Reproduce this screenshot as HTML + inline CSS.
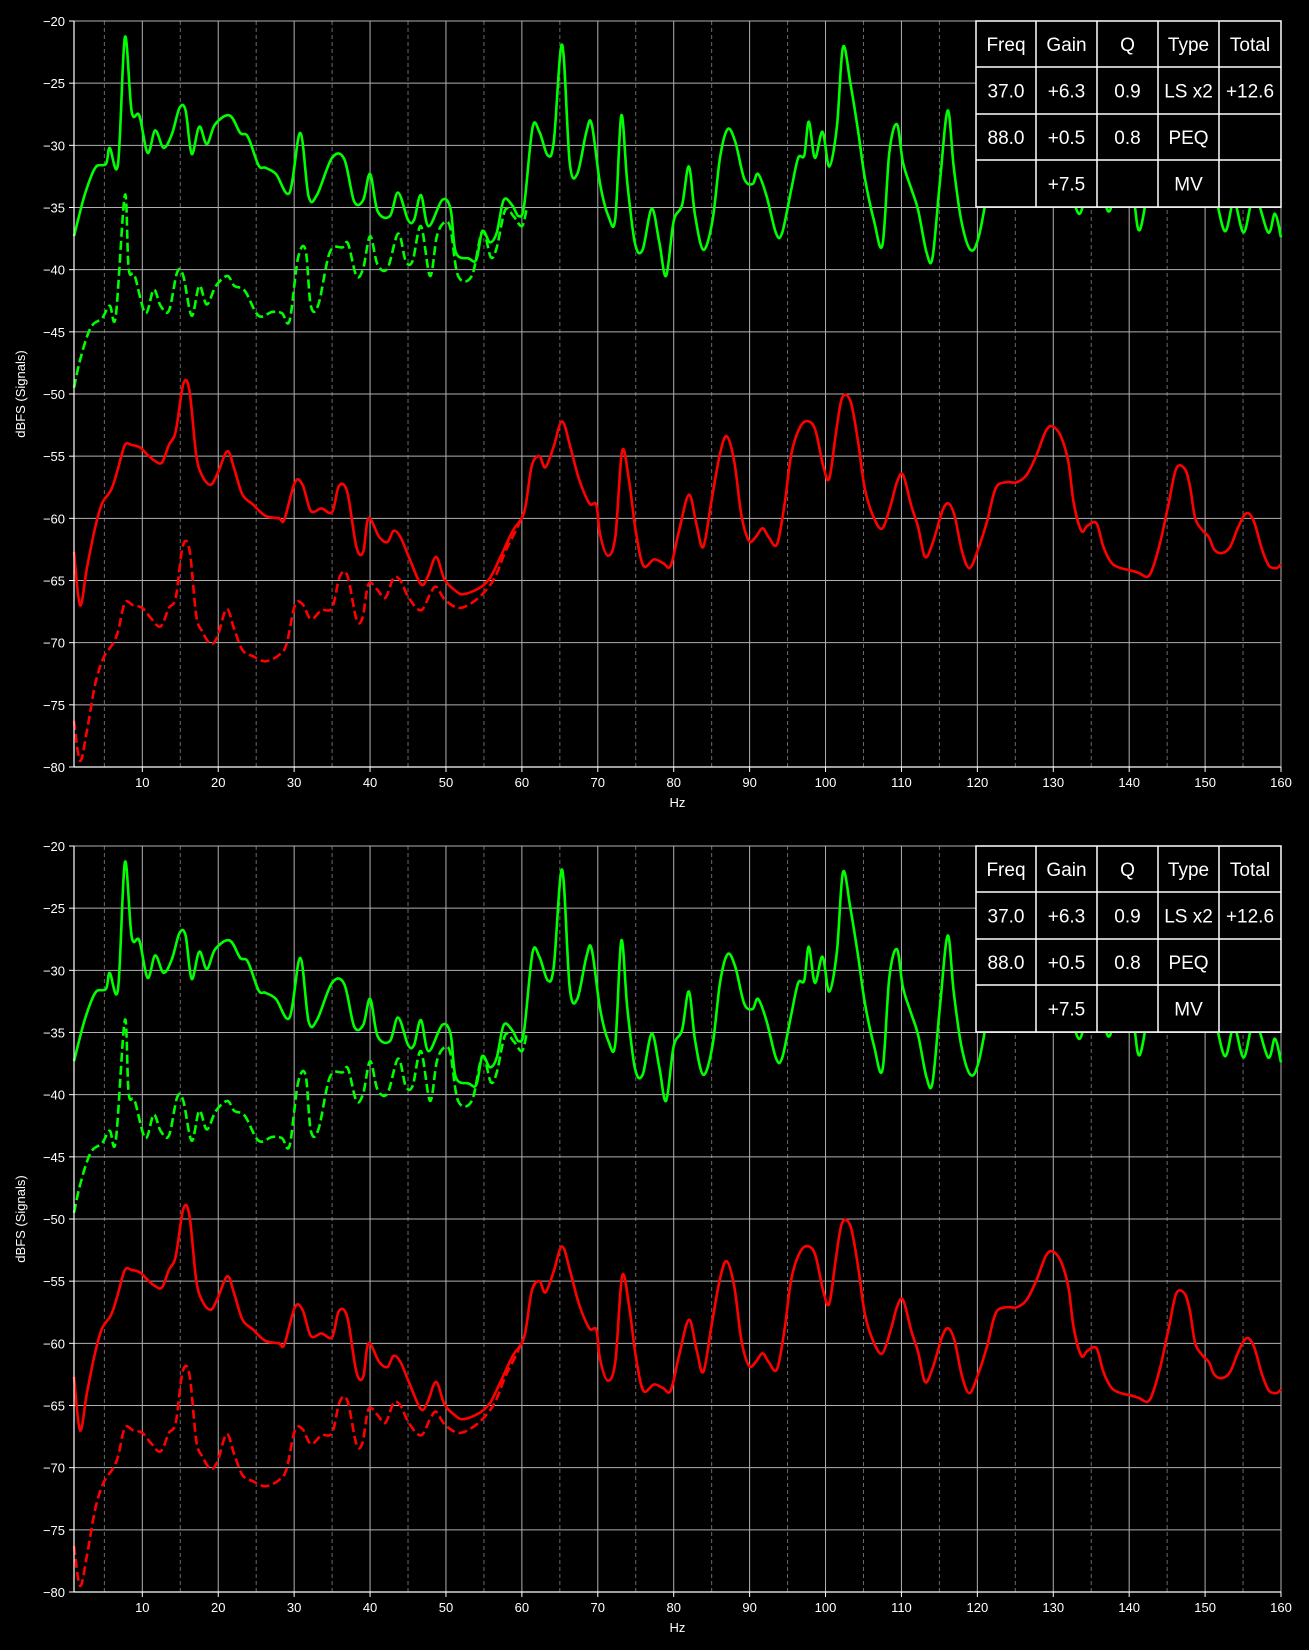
<!DOCTYPE html>
<html><head><meta charset="utf-8">
<style>
html,body{margin:0;padding:0;background:#000;}
svg{display:block;}
text{font-family:"Liberation Sans","DejaVu Sans",sans-serif;fill:#fff;}
</style></head>
<body>
<svg id="chart" width="1309" height="1650" viewBox="0 0 1309 1650" xmlns="http://www.w3.org/2000/svg">
<rect width="1309" height="1650" fill="#000"/>
</svg>
<script>
const xTicks = [10,20,30,40,50,60,70,80,90,100,110,120,130,140,150,160];
const xMinor = [5,15,25,35,45,55,65,75,85,95,105,115,125,135,145,155];
const yTicks = [-20,-25,-30,-35,-40,-45,-50,-55,-60,-65,-70,-75,-80];

const greenFreq = [1,2.4,3.8,5.2,5.7,6.8,7.7,8.6,9.6,10.7,11.7,12.8,13.9,14.9,15.7,16.5,17.5,18.5,19.6,21.5,22.9,23.9,25.3,26.2,27.6,29.4,30.8,31.9,33,35,36.6,37.9,39.1,40,41,42.6,43.7,45,45.8,46.7,47.7,49.5,50.6,51.3,53,54,54.8,55.8,56.7,57.6,58.7,59.6,60.3,61.4,62.3,63.4,64.2,65.3,66.3,67.3,68.5,69.2,70.3,71.4,72.3,73.1,73.9,74.9,75.9,77.1,78.1,79,80,81.1,82,82.8,83.9,85.1,86.1,87.1,88.1,89.3,90.4,91.1,92.2,93.5,94.3,95.5,96.4,97.2,97.8,98.6,99.6,100.5,101.5,102.3,103.3,104.3,105.2,106.4,107.5,108.4,109.4,110.2,111.3,112.2,113.3,114.1,115.1,116.1,116.9,117.9,119.1,120.2,122,124,126,128,130,132,133.5,135,136.5,137.5,139,140.5,141.4,143,145,147,149,151,152.6,153.8,155.1,156.5,158.3,159.2,160];
const greenDb = [-37.3,-34,-31.8,-31.5,-30.2,-31.5,-21.3,-27.3,-27.6,-30.6,-28.8,-30.2,-29.1,-27,-27.2,-30.7,-28.5,-29.9,-28.3,-27.6,-29,-29.3,-31.6,-31.8,-32.3,-33.8,-29,-34.1,-34,-31,-31.1,-34.5,-34.4,-32.3,-35.3,-35.7,-33.8,-36,-36,-34,-36.5,-34.4,-35.1,-38.6,-39.1,-39.2,-36.9,-37.8,-37,-34.4,-34.8,-35.7,-34.8,-28.6,-28.9,-30.8,-29.7,-21.9,-31.4,-32.3,-28.9,-28.3,-33.1,-35.7,-35.9,-27.6,-33.1,-37.9,-38.4,-35.1,-37.8,-40.5,-36.1,-34.8,-31.7,-35.6,-38.4,-36.1,-31,-28.7,-29.7,-32.7,-33.1,-32.3,-34,-37.1,-37,-33.5,-31,-30.8,-28.1,-31,-28.9,-31.7,-28.5,-22.1,-25.1,-28.9,-32.7,-36.1,-38,-30.6,-28.3,-31.4,-33.5,-35.2,-38.6,-39,-32.7,-27.2,-31.8,-36.1,-38.4,-37.3,-32,-30,-31,-33,-31,-33,-35.5,-32,-34,-35.2,-31,-34,-36.8,-32,-30,-31,-33,-33.5,-36.9,-34.5,-37,-34,-37,-35.5,-37.4];

const greenDashFreq = [1,1.7,2.7,3.5,4.7,5.7,6.5,7.7,8.2,9,10.4,11.5,12.4,13.5,14.6,15.4,16.5,17.5,18.5,19.7,21.2,22.1,23.5,25.3,27.1,28.4,29.4,30.5,31.5,32.2,33.2,34.7,36.4,37.1,38.2,39.1,40,41,42.3,43.7,44.7,45.6,46.7,47.9,48.8,49.8,50.6,51.6,53.4,54.8,55.9,56.7,57.8,58.9,60,60.6];
const greenDashDb = [-49.5,-47.5,-45.4,-44.4,-43.9,-42.9,-43.7,-34,-39.9,-40.5,-43.5,-41.6,-42.9,-43.3,-40.2,-40.5,-43.7,-41.3,-42.8,-41.3,-40.5,-41.3,-41.7,-43.7,-43.4,-43.5,-44.1,-39.1,-38.4,-42.9,-42.8,-38.6,-38.2,-37.9,-40.5,-39.9,-37.3,-39.6,-39.9,-37.1,-39.3,-39.3,-36.5,-40.5,-37.3,-36.2,-36.7,-40.5,-40.5,-36.9,-39,-38.2,-35.2,-35.7,-36.5,-35.2];

const redFreq = [1,1.8,2.7,3.8,4.7,5.9,6.8,7.7,8.6,9.7,10.7,11.7,12.6,13.5,14.4,15.4,16.2,17.1,17.9,19,19.9,21.2,22.1,23.2,24.6,26.2,28,28.7,30.1,31.1,32.2,33.6,35,35.9,37,38.2,39.1,39.8,41.2,42.3,43.1,44,45.1,46.7,47.6,48.7,49.8,51.2,52.3,54.4,55.8,57.1,58.8,60.3,61.3,62.3,63.1,64.2,65.3,66.4,67.5,68.9,69.8,70.3,71.3,72.3,73.2,74.1,75,76,77.4,78.6,79.6,80.7,82,83,83.9,85,86.1,87,88,88.9,89.9,90.8,91.7,92.5,93.6,94.6,95.5,96.7,97.8,98.7,99.7,100.5,101.4,102.2,103.3,104.3,105.2,106.4,107.5,108.6,109.4,110.2,111.3,112.2,113.1,114.1,115.4,116.2,117,118,119,120.2,121.3,122.4,123.7,125.2,126.5,127.8,129,129.9,131,132,132.7,133.7,134.5,135.7,136.6,137.7,138.9,140.3,141.3,142.4,143.1,144.1,145.2,146.2,147.3,148,148.7,149.7,150.5,151.2,152.2,153.3,154.3,155.4,156.4,157.5,158.4,159.4,160];
const redDb = [-62.7,-67,-64,-60.7,-58.8,-57.7,-56,-54.1,-54.1,-54.3,-54.9,-55.4,-55.5,-54.1,-53,-49.2,-49.7,-54.9,-56.6,-57.3,-56.4,-54.6,-56,-58.1,-58.9,-59.8,-60,-60.1,-57.1,-57.3,-59.4,-59.2,-59.5,-57.4,-57.9,-62.3,-62.7,-60,-61.5,-61.9,-61,-61.5,-63.1,-65.3,-64.7,-63.1,-64.9,-65.8,-66.1,-65.6,-64.8,-63.2,-61,-59.5,-55.8,-55,-55.9,-54.2,-52.2,-54.3,-56.8,-58.8,-58.9,-61.3,-63,-61.5,-54.6,-56.9,-61,-63.8,-63.3,-63.6,-63.8,-61,-58.1,-60.5,-62.3,-58.5,-54.8,-53.4,-55.5,-59.7,-61.8,-61.5,-60.8,-61.5,-62.1,-58.9,-54.8,-52.6,-52.2,-53,-55.8,-56.8,-53,-50.3,-50.6,-53.9,-57.7,-60,-60.8,-58.9,-57.1,-56.5,-59,-60.7,-63.1,-62,-59.4,-58.8,-59.8,-62.7,-64,-62.3,-60.2,-57.6,-57.1,-57.1,-56.5,-54.9,-53,-52.6,-53.4,-55.5,-58.8,-61,-60.6,-60.4,-62.3,-63.6,-64,-64.2,-64.4,-64.7,-64,-61.9,-58.8,-56,-56,-57.4,-60,-61,-61.5,-62.5,-62.8,-62.3,-60.8,-59.6,-60.2,-62.5,-63.8,-64,-63.7];

const redDashFreq = [1,1.8,2.7,3.8,4.9,6.1,6.8,7.7,8.8,10,11.1,12.4,13.5,14.4,15.3,16.2,17.1,17.9,19,19.9,21.1,22.1,23.2,24.6,26.2,28,29,30.1,31.1,32.2,33.6,35,36,37,38.2,39,39.8,40.9,42,43.1,44,45.1,46.7,47.9,48.7,49.8,51.6,53.4,55.1,56.5,57.8,59.2,60.3];
const redDashDb = [-76.3,-79.5,-77.1,-73.3,-71.2,-70.1,-69.1,-66.8,-67,-67.2,-68,-68.7,-67.2,-66.4,-62.3,-62.5,-67.8,-69.1,-70.1,-69.5,-67.3,-68.9,-70.6,-71.1,-71.5,-71,-70.1,-67,-66.9,-68.1,-67.4,-67.2,-64.7,-64.6,-68.1,-68,-65.3,-65.7,-66.4,-64.8,-65,-66.4,-67.4,-66.1,-65.5,-66.5,-67.2,-66.8,-65.9,-64.7,-62.7,-61,-59.5];

const tableRows = [["Freq","Gain","Q","Type","Total"],["37.0","+6.3","0.9","LS x2","+12.6"],["88.0","+0.5","0.8","PEQ",""],["","+7.5","","MV",""]];

const NS = "http://www.w3.org/2000/svg";
const svg = document.getElementById('chart');
const L = 74, R = 1281, XMIN = 1, XMAX = 160, YMIN = -80, YMAX = -20;
function mk(tag, attrs, parent){const e=document.createElementNS(NS,tag);for(const k in attrs)e.setAttribute(k,attrs[k]);(parent||svg).appendChild(e);return e;}
function fmt(v){return v<0?'\u2212'+Math.abs(v):String(v);}

function smoothPath(pts){
  let d='M'+pts[0][0].toFixed(1)+','+pts[0][1].toFixed(1);
  for(let i=0;i<pts.length-1;i++){
    const p0=pts[Math.max(0,i-1)],p1=pts[i],p2=pts[i+1],p3=pts[Math.min(pts.length-1,i+2)];
    const c1x=p1[0]+(p2[0]-p0[0])/6,c1y=p1[1]+(p2[1]-p0[1])/6;
    const c2x=p2[0]-(p3[0]-p1[0])/6,c2y=p2[1]-(p3[1]-p1[1])/6;
    d+=' C'+c1x.toFixed(1)+','+c1y.toFixed(1)+' '+c2x.toFixed(1)+','+c2y.toFixed(1)+' '+p2[0].toFixed(1)+','+p2[1].toFixed(1);
  }
  return d;
}

function drawPanel(T, B, idx){
  const xs = f => L + (f-XMIN)/(XMAX-XMIN)*(R-L);
  const ys = v => T + (YMAX-v)/(YMAX-YMIN)*(B-T);
  const g = mk('g',{});
  
  
  xMinor.forEach(f=>{
    const l=mk('line',{x1:xs(f),x2:xs(f),y1:T,y2:B,stroke:'#6a6a6a','stroke-width':1,'stroke-dasharray':'4,3'},g);
    
    
  });
  xTicks.forEach(f=>{
    const l=mk('line',{x1:xs(f),x2:xs(f),y1:T,y2:B,stroke:'#b0b0b0','stroke-width':1},g);
    
    
    const tk=mk('line',{x1:xs(f),x2:xs(f),y1:B,y2:B+5,stroke:'#fff','stroke-width':1},g);
    
    
    const t=mk('text',{x:xs(f),y:B+20,'text-anchor':'middle','font-size':13},g);
    t.textContent=fmt(f);
    
    
  });
  yTicks.forEach(v=>{
    const l=mk('line',{x1:L,x2:R,y1:ys(v),y2:ys(v),stroke:'#b0b0b0','stroke-width':1},g);
    
    
    const tk=mk('line',{x1:L-5,x2:L,y1:ys(v),y2:ys(v),stroke:'#fff','stroke-width':1},g);
    
    
    const t=mk('text',{x:L-9,y:ys(v)+5,'text-anchor':'end','font-size':13},g);
    t.textContent=fmt(v);
    
    
  });
  const series=[[greenDashFreq,greenDashDb,'#00ff00',true,'green-dashed-line'],[greenFreq,greenDb,'#00ff00',false,'green-solid-line'],[redDashFreq,redDashDb,'#ff0000',true,'red-dashed-line'],[redFreq,redDb,'#ff0000',false,'red-solid-line']];
  series.forEach(s=>{
    const pts=s[0].map((f,i)=>[xs(f),ys(s[1][i])]);
    const p=mk('path',{d:smoothPath(pts),fill:'none',stroke:s[2],'stroke-width':2.6,'stroke-linejoin':'round'},g);
    if(s[3]) p.setAttribute('stroke-dasharray','9,4');
    
    
  });
  const ls=mk('line',{x1:L,x2:L,y1:T,y2:B,stroke:'#fff','stroke-width':1.2},g);
  
  
  const bs=mk('line',{x1:L,x2:R,y1:B,y2:B,stroke:'#fff','stroke-width':1.2},g);
  
  
  const xl=mk('text',{x:(L+R)/2,y:B+40,'text-anchor':'middle','font-size':13},g);
  xl.textContent='Hz';
  
  
  const cy=(T+B)/2;
  const yl=mk('text',{x:25,y:cy,'text-anchor':'middle','font-size':13,transform:'rotate(-90 25 '+cy+')'},g);
  yl.textContent='dBFS (Signals)';
  
  
  // table
  const colX=[976,1036,1097,1158,1219,1281];
  const rowY=[0,46,93,139,186];
  const tg=mk('g',{},g);
  
  
  mk('rect',{x:colX[0],y:T,width:colX[5]-colX[0],height:rowY[4],fill:'#000',stroke:'#fff','stroke-width':1.5},tg);
  rowY.slice(1,4).forEach(r=>mk('line',{x1:colX[0],x2:colX[5],y1:T+r,y2:T+r,stroke:'#fff','stroke-width':1.5},tg));
  colX.slice(1,5).forEach(c=>mk('line',{x1:c,x2:c,y1:T,y2:T+rowY[4],stroke:'#fff','stroke-width':1.5},tg));
  tableRows.forEach((row,ri)=>row.forEach((txt,ci)=>{
    if(!txt) return;
    const t=mk('text',{x:(colX[ci]+colX[ci+1])/2,y:T+(rowY[ri]+rowY[ri+1])/2+7,'text-anchor':'middle','font-size':19},tg);
    t.textContent=txt;
    
    
  }));
}
drawPanel(21,767,1);
drawPanel(846,1592,2);
</script>
</body></html>
